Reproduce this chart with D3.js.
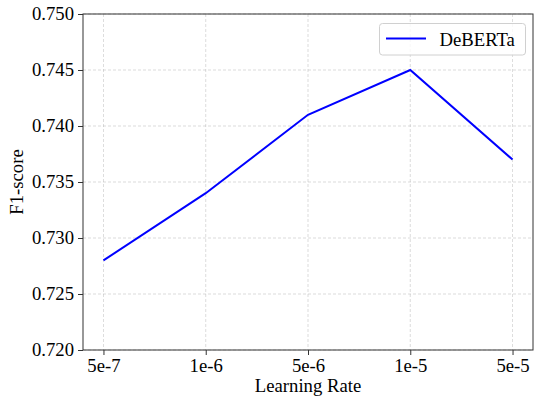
<!DOCTYPE html>
<html>
<head>
<meta charset="utf-8">
<script src="https://cdn.jsdelivr.net/npm/d3@7"></script>
<style>
html,body{margin:0;padding:0;background:#fff;}
svg text{font-family:'Liberation Serif','Times New Roman',serif !important;}
</style>
</head>
<body>
<svg id="chart" width="534" height="398"></svg>
<script>
const categories = ["5e-7", "1e-6", "5e-6", "1e-5", "5e-5"];
const f1Values = [0.728, 0.734, 0.741, 0.745, 0.737];
const yTicks = [0.720, 0.725, 0.730, 0.735, 0.740, 0.745, 0.750];
const seriesName = "DeBERTa";

const FONT = "'Liberation Serif', 'Times New Roman', serif";
const FS = 18.7;

const svg = d3.select("#chart");
const m = {left: 83, top: 14, right: 533, bottom: 350};

const x = d3.scaleLinear().domain([-0.2, categories.length - 1 + 0.2]).range([m.left, m.right]);
const y = d3.scaleLinear().domain([0.720, 0.750]).range([m.bottom, m.top]);

// grid
const g = svg.append("g");
g.selectAll(".vg").data(categories).enter().append("line")
  .attr("x1", (d,i)=>x(i)).attr("x2", (d,i)=>x(i))
  .attr("y1", m.top).attr("y2", m.bottom)
  .attr("stroke", "#b0b0b0").attr("stroke-width", 0.8).attr("stroke-dasharray", "3,2").attr("opacity", 0.55);
g.selectAll(".hg").data(yTicks).enter().append("line")
  .attr("x1", m.left).attr("x2", m.right)
  .attr("y1", d=>y(d)).attr("y2", d=>y(d))
  .attr("stroke", "#b0b0b0").attr("stroke-width", 0.8).attr("stroke-dasharray", "3,2").attr("opacity", 0.55);

// line
const line = d3.line().x((d,i)=>x(i)).y(d=>y(d));
svg.append("path").datum(f1Values).attr("d", line)
  .attr("fill", "none").attr("stroke", "#0000ff").attr("stroke-width", 2);

// axes
const xAxis = d3.axisBottom(x).tickValues(d3.range(categories.length))
  .tickFormat(i=>categories[i]).tickSize(5).tickPadding(4);
const yAxis = d3.axisLeft(y).tickValues(yTicks).tickFormat(d3.format(".3f")).tickSize(5).tickPadding(4);

const gx = svg.append("g").attr("transform", `translate(0,${m.bottom})`).call(xAxis);
const gy = svg.append("g").attr("transform", `translate(${m.left},0)`).call(yAxis);
[gx, gy].forEach(a=>{
  a.attr("font-family", FONT).attr("font-size", FS);
  a.select(".domain").remove();
  a.selectAll(".tick line").attr("stroke", "#333").attr("stroke-width", 1);
  a.selectAll(".tick text").attr("fill", "#000")
    .style("font-family", FONT).style("font-size", FS + "px");
});

// frame
svg.append("rect").attr("x", m.left).attr("y", m.top)
  .attr("width", m.right - m.left).attr("height", m.bottom - m.top)
  .attr("fill", "none").attr("stroke", "#333").attr("stroke-width", 1);

// labels
svg.append("text").attr("x", (m.left+m.right)/2).attr("y", 392)
  .attr("text-anchor", "middle").attr("font-family", FONT).attr("font-size", FS).text("Learning Rate");
svg.append("text").attr("transform", `translate(23,${(m.top+m.bottom)/2}) rotate(-90)`)
  .attr("text-anchor", "middle").attr("font-family", FONT).attr("font-size", FS).text("F1-score");

// legend
const lg = svg.append("g");
lg.append("rect").attr("x", 379.5).attr("y", 23.5).attr("width", 146).attr("height", 31.5)
  .attr("rx", 3).attr("fill", "#fff").attr("fill-opacity", 0.8)
  .attr("stroke", "#d0d0d0").attr("stroke-width", 1);
lg.append("line").attr("x1", 386).attr("x2", 426).attr("y1", 38.5).attr("y2", 38.5)
  .attr("stroke", "#0000ff").attr("stroke-width", 2);
lg.append("text").attr("x", 439.5).attr("y", 45.5).attr("font-family", FONT).attr("font-size", FS).text(seriesName);
</script>
</body>
</html>
